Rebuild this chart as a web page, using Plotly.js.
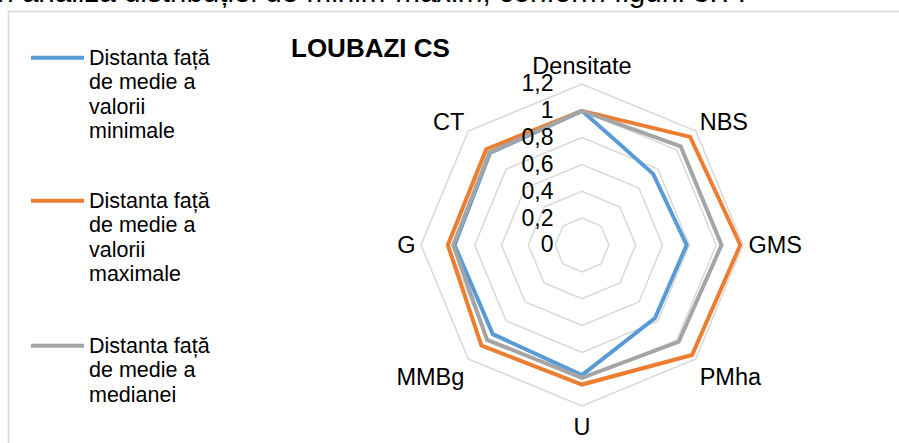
<!DOCTYPE html>
<html>
<head>
<meta charset="utf-8">
<script src="https://cdn.plot.ly/plotly-3.0.1.min.js"></script>
<style>html,body{margin:0;padding:0;background:#fff;}#chart{width:899px;height:443px;}</style>
</head>
<body>
<div id="chart"></div>
<script>
// ---- data ----
const categories = ["Densitate", "NBS", "GMS", "PMha", "U", "MMBg", "G", "CT"];
const seriesNames = [
  "Distanta fa\u021b\u0103<br>de medie a<br>valorii<br>minimale",
  "Distanta fa\u021b\u0103<br>de medie a<br>valorii<br>maximale",
  "Distanta fa\u021b\u0103<br>de medie a<br>medianei"
];
const minValues    = [1.00, 0.75, 0.78, 0.77, 0.97, 0.94, 0.95, 0.97];
const maxValues    = [1.00, 1.14, 1.18, 1.16, 1.04, 1.06, 1.00, 1.01];
const medianValues = [1.00, 1.04, 1.04, 1.02, 0.99, 1.00, 0.96, 0.975];
const radialTicks  = [0, 0.2, 0.4, 0.6, 0.8, 1, 1.2];
const chartTitle = "LOUBAZI CS";
const topText = "\u00een analiza distribu\u021biei de minim-maxim, conform figurii 3.??";

const colors = ["#5B9BD5", "#ED7D31", "#A5A5A5"];
const W = 899, H = 443;
const cx = 582, cy = 245, R = 161;
const FONT = "Liberation Sans, Arial, sans-serif";

function closed(a) { return a.concat([a[0]]); }

const allValues = [minValues, maxValues, medianValues];
const legendTops = [39, 182, 327];
const traces = allValues.map((vals, i) => ({
  type: "scatterpolar",
  mode: "lines",
  r: closed(vals),
  theta: closed(categories),
  name: '<span style="font-size:21.5px">' + seriesNames[i] + '</span>',
  line: {color: colors[i], width: 4},
  legend: i === 0 ? "legend" : ("legend" + (i + 1)),
  hoverinfo: "skip"
}));

function legendCfg(top) {
  return {
    x: 26 / W, xanchor: "left",
    y: 1 - top / H, yanchor: "top",
    bgcolor: "rgba(0,0,0,0)",
    borderwidth: 0,
    valign: "top",
    itemwidth: 53,
    font: {family: FONT, size: 18.7, color: "#000"}
  };
}

const layout = {
  width: W, height: H,
  margin: {l: 0, r: 0, t: 0, b: 0},
  paper_bgcolor: "#fff",
  separators: ", ",
  showlegend: true,
  legend: legendCfg(legendTops[0]),
  legend2: legendCfg(legendTops[1]),
  legend3: legendCfg(legendTops[2]),
  title: {
    text: "<b>" + chartTitle + "</b>",
    x: 291 / W, xanchor: "left", xref: "paper",
    y: 1 - 48 / H, yanchor: "middle", yref: "paper",
    font: {family: FONT, size: 26, color: "#000"}
  },
  polar: {
    domain: {x: [(cx - R) / W, (cx + R) / W], y: [1 - (cy + R) / H, 1 - (cy - R) / H]},
    bgcolor: "rgba(0,0,0,0)",
    gridshape: "linear",
    angularaxis: {
      direction: "clockwise",
      rotation: 90,
      showgrid: false,
      showline: true,
      linecolor: "#d9d9d9",
      linewidth: 1.5,
      ticks: "",
      tickfont: {family: FONT, size: 23.5, color: "#000"}
    },
    radialaxis: {
      range: [0, 1.2],
      angle: 90,
      tickangle: 90,
      tickvals: radialTicks,
      showline: false,
      showgrid: true,
      gridcolor: "#d9d9d9",
      gridwidth: 1.5,
      ticks: "outside",
      ticklen: 20,
      tickcolor: "rgba(0,0,0,0)",
      side: "counterclockwise",
      tickfont: {family: FONT, size: 23, color: "#000"}
    }
  },
  shapes: [{
    type: "rect", xref: "paper", yref: "paper",
    x0: 8.5 / W, x1: 1.05, y0: -0.05, y1: 1 - 11.5 / H,
    line: {color: "#d9d9d9", width: 1.5}, fillcolor: "rgba(0,0,0,0)", layer: "below"
  }],
  annotations: [{
    text: topText, showarrow: false,
    xref: "paper", yref: "paper",
    x: 753 / W, xanchor: "right",
    y: 1 + 9 / H, yanchor: "middle",
    font: {family: FONT, size: 29.6, color: "#000"}
  }]
};

Plotly.newPlot("chart", traces, layout, {staticPlot: true, displayModeBar: false});
</script>
</body>
</html>
